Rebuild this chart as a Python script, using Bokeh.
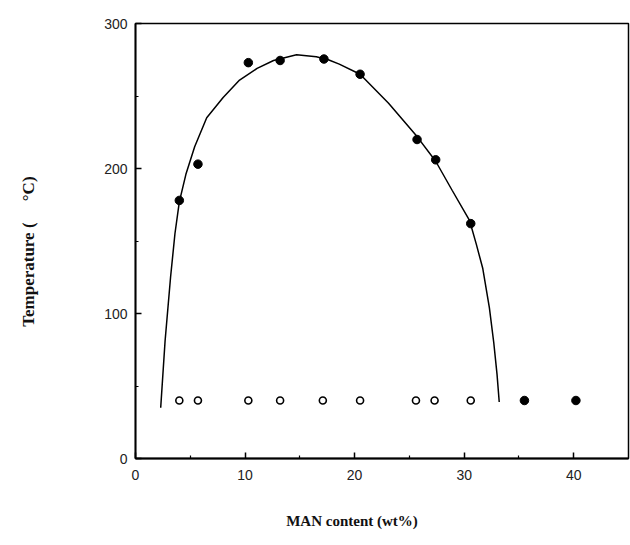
from bokeh.plotting import figure
from bokeh.models import Range1d, FixedTicker
from bokeh.embed import file_html
from bokeh.resources import INLINE

# Data
filled_x = [4.0, 5.7, 10.3, 13.2, 17.2, 20.5, 25.7, 27.4, 30.6, 35.5, 40.2]
filled_t = [178, 203, 273, 274.5, 275.5, 265, 220, 206, 162, 40, 40]

open_x = [4.0, 5.7, 10.3, 13.2, 17.1, 20.5, 25.6, 27.3, 30.6]
open_t = [40, 40, 40, 40, 40, 40, 40, 40, 40]

curve_x = [2.3, 2.7, 3.2, 3.6, 4.0, 4.6, 5.4, 6.5, 8.0, 9.5, 11.1, 12.6, 14.7,
           16.5, 17.6, 18.6, 20.5, 23.1, 25.7, 27.4, 28.9, 30.5, 31.1, 31.7,
           32.3, 32.7, 33.0, 33.2]
curve_t = [35, 81, 125, 155, 177, 196, 215, 235, 249, 261, 269, 274.5, 278.4,
           277, 275, 272, 265, 245, 222, 205, 185, 164, 148, 131, 104, 80,
           58, 39]

x_ticks = [0, 10, 20, 30, 40]
x_minor = [5, 15, 25, 35]
y_ticks = [0, 100, 200, 300]
y_minor = [50, 150, 250]

NB = "\u00a0"
x_title = "MAN content (wt%)"
y_title = "Temperature (" + NB * 5 + "\u00b0C)"

p = figure(width=630, height=545, x_range=Range1d(0, 45), y_range=Range1d(0, 300),
           output_backend="svg", toolbar_location=None,
           min_border_left=135, min_border_right=2, min_border_top=23,
           min_border_bottom=87)

p.xgrid.visible = False
p.ygrid.visible = False
p.outline_line_color = "black"
p.outline_line_width = 1.5
p.background_fill_color = "white"
p.border_fill_color = "white"

p.xaxis.ticker = FixedTicker(ticks=x_ticks, minor_ticks=x_minor)
p.yaxis.ticker = FixedTicker(ticks=y_ticks, minor_ticks=y_minor)

for ax in (p.xaxis, p.yaxis):
    ax.axis_line_width = 1.8
    ax.axis_line_color = "black"
    ax.major_tick_in = 6
    ax.major_tick_out = 0
    ax.minor_tick_in = 3
    ax.minor_tick_out = 0
    ax.major_tick_line_width = 1.5
    ax.minor_tick_line_width = 1.2
    ax.major_label_text_font = "Liberation Sans"
    ax.major_label_text_font_size = "14px"
    ax.major_label_text_color = "#222222"
    ax.axis_label_text_font = "Liberation Serif"
    ax.axis_label_text_font_style = "bold"
    ax.axis_label_text_color = "#111111"

p.xaxis.major_label_standoff = 11
p.yaxis.major_label_standoff = 8

# trailing no-break spaces shift the centred titles to where the reference has them
p.xaxis.axis_label = x_title + NB * 16
p.xaxis.axis_label_text_font_size = "15px"
p.xaxis.axis_label_standoff = 30
p.yaxis.axis_label = y_title + NB * 5
p.yaxis.axis_label_text_font_size = "17px"
p.yaxis.axis_label_standoff = 63

p.line(curve_x, curve_t, line_color="black", line_width=1.5)
p.scatter(open_x, open_t, size=7, fill_color="white", line_color="black",
          line_width=1.6)
p.scatter(filled_x, filled_t, size=8.5, fill_color="black", line_color="black")

open("out.html", "w").write(file_html(p, INLINE))
